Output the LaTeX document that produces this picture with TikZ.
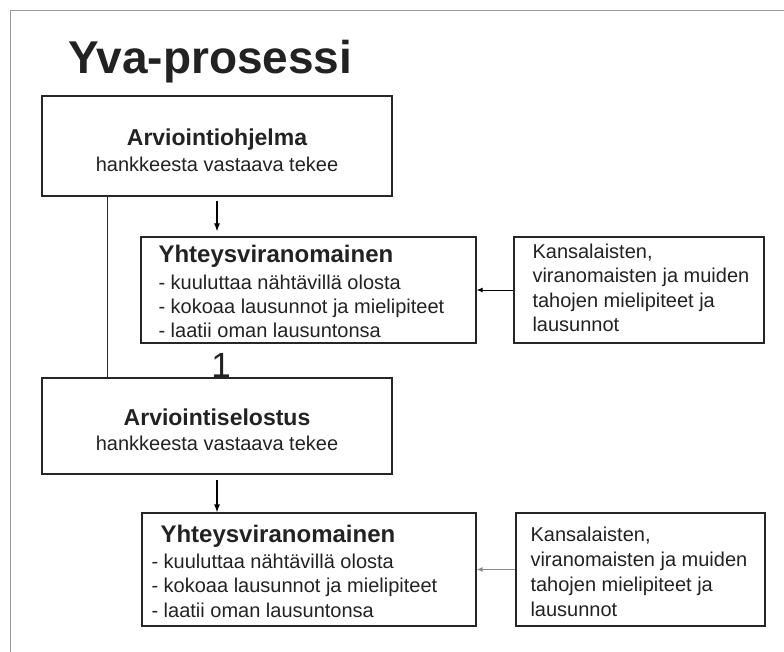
\documentclass[tikz,border=0pt]{standalone}
\usepackage{fontspec}
\setmainfont{Liberation Sans}
\usetikzlibrary{arrows.meta}
\definecolor{ink}{HTML}{222222}
\def\boxnode{\node[draw=black!85,line width=1.2pt,inner sep=0pt]}
\def\headfont{\fontsize{23}{27}\selectfont\bfseries}
\def\txtfont{\fontsize{20}{24}\selectfont}

\begin{document}
\begin{tikzpicture}[x=1pt,y=-1pt,text=ink,
  arr/.style={-{Latex[length=8pt,width=6pt]},line width=1.2pt},
  sidearr/.style={-{Latex[length=6pt,width=5pt]},line width=1pt}]
\useasboundingbox (0,0) rectangle (784,652);
\draw[black!40,line width=1pt] (10,652) -- (10,11) -- (784,11);
\node[anchor=base west,font=\fontsize{46}{50}\selectfont\bfseries] (title) at (65,74) {Yva-prosessi};

% ohjelma
\boxnode[minimum width=350pt,minimum height=100pt] (ohj) at (217,146) {};
\node[anchor=base,font=\headfont] (ohjh) at (217,146) {Arviointiohjelma};
\node[anchor=base,font=\txtfont] (ohjs) at (217,172) {hankkeesta vastaava tekee};

\boxnode[minimum width=335pt,minimum height=106pt] (yv1) at (308.5,290) {};
\node[anchor=base west,font=\fontsize{24}{28}\selectfont\bfseries] (yv1h) at (155,263) {Yhteysviranomainen};
\foreach \t [count=\i] in {kuuluttaa nähtävillä olosta,kokoaa lausunnot ja mielipiteet,laatii oman lausuntonsa}
  \node[anchor=base west,font=\txtfont] (yv1l\i) at (155,265+24*\i) {- \t};

\boxnode[minimum width=250pt,minimum height=106pt] (kan1) at (639,290) {};
\foreach \t [count=\i] in {{Kansalaisten,},viranomaisten ja muiden,tahojen mielipiteet ja,lausunnot}
  \node[anchor=base west,font=\txtfont] (kan1l\i) at (529,235+24*\i) {\t};

\node[anchor=base,font=\fontsize{35}{35}\selectfont] (yksi) at (221,377) {1};

% selostus
\boxnode[minimum width=350pt,minimum height=96pt] (sel) at (217,426) {};
\node[anchor=base,font=\headfont] (selh) at (217,425) {Arviointiselostus};
\node[anchor=base,font=\txtfont] (sels) at (217,450) {hankkeesta vastaava tekee};

\boxnode[minimum width=334pt,minimum height=113pt] (yv2) at (309,569.5) {};
\node[anchor=base west,font=\fontsize{24}{28}\selectfont\bfseries] (yv2h) at (157,542) {Yhteysviranomainen};
\foreach \t [count=\i] in {kuuluttaa nähtävillä olosta,kokoaa lausunnot ja mielipiteet,laatii oman lausuntonsa}
  \node[anchor=base west,font=\txtfont] (yv2l\i) at (148,543.5+24.5*\i) {- \t};

\boxnode[minimum width=249pt,minimum height=113pt] (kan2) at (640.5,569.5) {};
\foreach \t [count=\i] in {{Kansalaisten,},viranomaisten ja muiden,tahojen mielipiteet ja,lausunnot}
  \node[anchor=base west,font=\txtfont] (kan2l\i) at (527,516+25*\i) {\t};

% yhteydet
\draw[black!85,line width=1.2pt] ([xshift=66pt]ohj.south west) -- ([xshift=66pt]sel.north west);
\draw[arr,shorten <=4pt,shorten >=5pt] (ohj.south) -- (ohj.south |- yv1.north);
\draw[arr,shorten <=5pt] (sel.south) -- (sel.south |- yv2.north);
\draw[sidearr] (kan1.west) -- (yv1.east);
\draw[sidearr,black!45] (kan2.west) -- (yv2.east);
\end{tikzpicture}
\end{document}
